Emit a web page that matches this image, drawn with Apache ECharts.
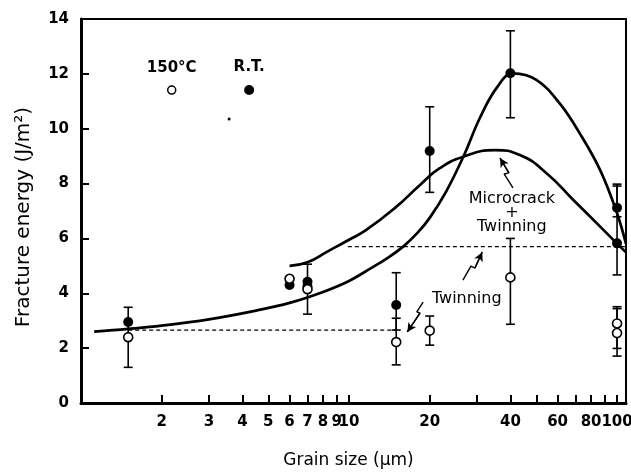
<!DOCTYPE html>
<html>
<head>
<meta charset="utf-8">
<script src="https://cdn.jsdelivr.net/npm/echarts@6/dist/echarts.min.js"></script>
<style>
  html, body { margin: 0; padding: 0; background: #fff; }
  #chart { width: 631px; height: 472px; }
</style>
</head>
<body>
<div id="chart"></div>
<script>
// grain size ticks (log axis)
const xTickVals = [2, 3, 4, 5, 6, 7, 8, 9, 10, 20, 30, 40, 50, 60, 70, 80, 90, 100];
const xLabelVals = [2, 3, 4, 5, 6, 7, 8, 9, 10, 20, 40, 60, 80, 100];

// room temperature (filled) and 150 C (open) points
const rtPoints = [[1.5, 2.95], [6, 4.3], [7, 4.25], [7, 4.42], [15, 3.57], [20, 9.19], [40, 12.02], [100, 7.12], [100, 5.82]];
const hotPoints = [[1.5, 2.4], [6, 4.53], [7, 4.15], [15, 2.22], [20, 2.64], [40, 4.58], [100, 2.9], [100, 2.55]];

// error bars: [x, low, high]
const errorBars = [
  [1.5, 1.30, 3.49], [7, 3.24, 5.06],
  [15, 2.66, 4.75], [15, 1.39, 3.09],
  [20, 7.68, 10.8], [20, 2.11, 3.17],
  [40, 10.4, 13.57], [40, 2.87, 6.0],
  [100, 6.79, 7.98], [100, 4.67, 7.91],
  [100, 1.99, 3.51], [100, 1.71, 3.44]
];

// fitted curves
const curveSharp = [[1.12, 2.6], [1.5, 2.7], [2, 2.82], [3, 3.05], [4.5, 3.37], [6, 3.65], [8, 4.05], [10, 4.45], [12, 4.9], [14, 5.3], [16, 5.72], [18, 6.2], [20, 6.75], [23, 7.7], [26.7, 8.98], [30.8, 10.4], [35.6, 11.5], [41, 12.02], [50, 11.78], [61, 10.93], [72.6, 9.83], [86.5, 8.49], [100, 6.92], [108, 5.8]];
const curveBroad = [[6, 5.0], [7, 5.13], [8.3, 5.52], [10, 5.95], [11.6, 6.31], [15, 7.15], [18.4, 7.95], [21.8, 8.56], [26.7, 8.98], [35, 9.22], [43.4, 9.04], [54.7, 8.37], [68.7, 7.4], [86.5, 6.43], [102.6, 5.7], [108, 5.5]];

// dashed twinning levels
const dashLow = [[1.5, 2.66], [15, 2.66]];
const dashHigh = [[9.9, 5.7], [108, 5.7]];

// lightning arrows (last point is the head)
const boltTop = [[40.9, 7.84], [37.9, 8.35], [39.5, 8.39], [36.6, 8.93]];
const boltMid = [[26.6, 4.48], [28.5, 4.99], [29.5, 4.92], [31.4, 5.5]];
const boltLow = [[18.9, 3.68], [17.9, 3.32], [18.4, 3.28], [16.5, 2.59]];

// legend key and stray dot
const keyHot = [[2.18, 11.41]];
const keyRt = [[4.24, 11.41]];
const strayDot = [[3.57, 10.35]];

const fontFam = 'DejaVu Sans';

function renderErrorBar(params, api) {
  const x = api.value(0);
  const lo = api.coord([x, api.value(1)]);
  const hi = api.coord([x, api.value(2)]);
  const w = 4.5;
  const st = { stroke: '#000', lineWidth: 1.6 };
  return {
    type: 'group',
    children: [
      { type: 'line', shape: { x1: lo[0], y1: lo[1], x2: hi[0], y2: hi[1] }, style: st },
      { type: 'line', shape: { x1: lo[0] - w, y1: lo[1], x2: lo[0] + w, y2: lo[1] }, style: st },
      { type: 'line', shape: { x1: hi[0] - w, y1: hi[1], x2: hi[0] + w, y2: hi[1] }, style: st }
    ]
  };
}

function bolt(data) {
  const n = data.length;
  return {
    type: 'line', data: data, showSymbol: false, silent: true,
    lineStyle: { color: '#000', width: 1.4 },
    markLine: {
      silent: true, symbolSize: [7, 9], label: { show: false },
      lineStyle: { color: '#000', width: 1.4, type: 'solid' },
      itemStyle: { color: '#000' },
      data: [[{ coord: data[n - 2], symbol: 'none' }, { coord: data[n - 1], symbol: 'arrow' }]]
    }
  };
}

function textMark(pos, text, fontSize, lineHeight) {
  return {
    type: 'scatter', data: [pos], symbolSize: 0, silent: true,
    itemStyle: { opacity: 1 },
    label: {
      show: true, position: 'inside', formatter: text, color: '#000',
      fontFamily: fontFam, fontSize: fontSize, lineHeight: lineHeight, align: 'center'
    }
  };
}

const chart = echarts.init(document.getElementById('chart'), null, { renderer: 'canvas' });

chart.setOption({
  animation: false,
  backgroundColor: '#fff',
  grid: {
    left: 81, right: 5, top: 19, bottom: 69, outerBoundsMode: 'none',
    show: true, borderColor: '#000', borderWidth: 2, backgroundColor: 'transparent'
  },
  xAxis: {
    type: 'log', logBase: 10, min: 1, max: 108,
    name: 'Grain size (μm)', nameLocation: 'middle', nameGap: 49,
    nameTextStyle: { fontFamily: fontFam, fontSize: 17, color: '#000', padding: [0, 10, 0, 0] },
    axisLine: { lineStyle: { color: '#000', width: 3 } },
    axisTick: { inside: true, length: 8, lineStyle: { color: '#000', width: 2 }, customValues: xTickVals },
    minorTick: { show: false },
    axisLabel: { customValues: xLabelVals, hideOverlap: false, margin: 12, fontFamily: fontFam, fontSize: 15, fontWeight: 'bold', color: '#000' },
    splitLine: { show: false }
  },
  yAxis: {
    type: 'value', min: 0, max: 14, interval: 2,
    name: 'Fracture energy (J/m²)', nameLocation: 'middle', nameGap: 47,
    nameTextStyle: { fontFamily: fontFam, fontSize: 20, color: '#000', padding: [0, 12, 0, 0] },
    axisLine: { show: true, lineStyle: { color: '#000', width: 3 } },
    axisTick: { show: true, inside: true, length: 8, lineStyle: { color: '#000', width: 2 } },
    axisLabel: { margin: 12, fontFamily: fontFam, fontSize: 15, fontWeight: 'bold', color: '#000' },
    splitLine: { show: false }
  },
  series: [
    { type: 'line', data: dashLow, showSymbol: false, silent: true, lineStyle: { color: '#000', width: 1.3, type: [4, 3] } },
    { type: 'line', data: dashHigh, showSymbol: false, silent: true, lineStyle: { color: '#000', width: 1.3, type: [4, 3] } },
    { type: 'line', data: curveSharp, smooth: 0.4, showSymbol: false, silent: true, lineStyle: { color: '#000', width: 2.7 } },
    { type: 'line', data: curveBroad, smooth: 0.5, showSymbol: false, silent: true, lineStyle: { color: '#000', width: 2.7 } },
    { type: 'custom', data: errorBars, renderItem: renderErrorBar, encode: { x: 0, y: [1, 2] }, silent: true },
    { type: 'scatter', data: rtPoints, symbol: 'circle', symbolSize: 10, itemStyle: { color: '#000', opacity: 1 }, silent: true },
    { type: 'scatter', data: hotPoints, symbol: 'circle', symbolSize: 9, itemStyle: { color: '#fff', borderColor: '#000', borderWidth: 1.6, opacity: 1 }, silent: true },
    {
      type: 'scatter', data: keyHot, symbol: 'circle', symbolSize: 8, itemStyle: { color: '#fff', borderColor: '#000', borderWidth: 1.5, opacity: 1 }, silent: true,
      label: { show: true, position: 'top', distance: 10, formatter: '150°C', fontFamily: fontFam, fontSize: 15, fontWeight: 'bold', color: '#000' }
    },
    {
      type: 'scatter', data: keyRt, symbol: 'circle', symbolSize: 10, itemStyle: { color: '#000', opacity: 1 }, silent: true,
      label: { show: true, position: 'top', distance: 10, formatter: 'R.T.', fontFamily: fontFam, fontSize: 15, fontWeight: 'bold', color: '#000' }
    },
    { type: 'scatter', data: strayDot, symbol: 'circle', symbolSize: 3, itemStyle: { color: '#000', opacity: 1 }, silent: true },
    bolt(boltTop),
    bolt(boltMid),
    bolt(boltLow),
    textMark([40.5, 6.95], 'Microcrack\n+\nTwinning', 16, 14),
    textMark([27.5, 3.8], 'Twinning', 16, 16)
  ]
});
</script>
</body>
</html>
